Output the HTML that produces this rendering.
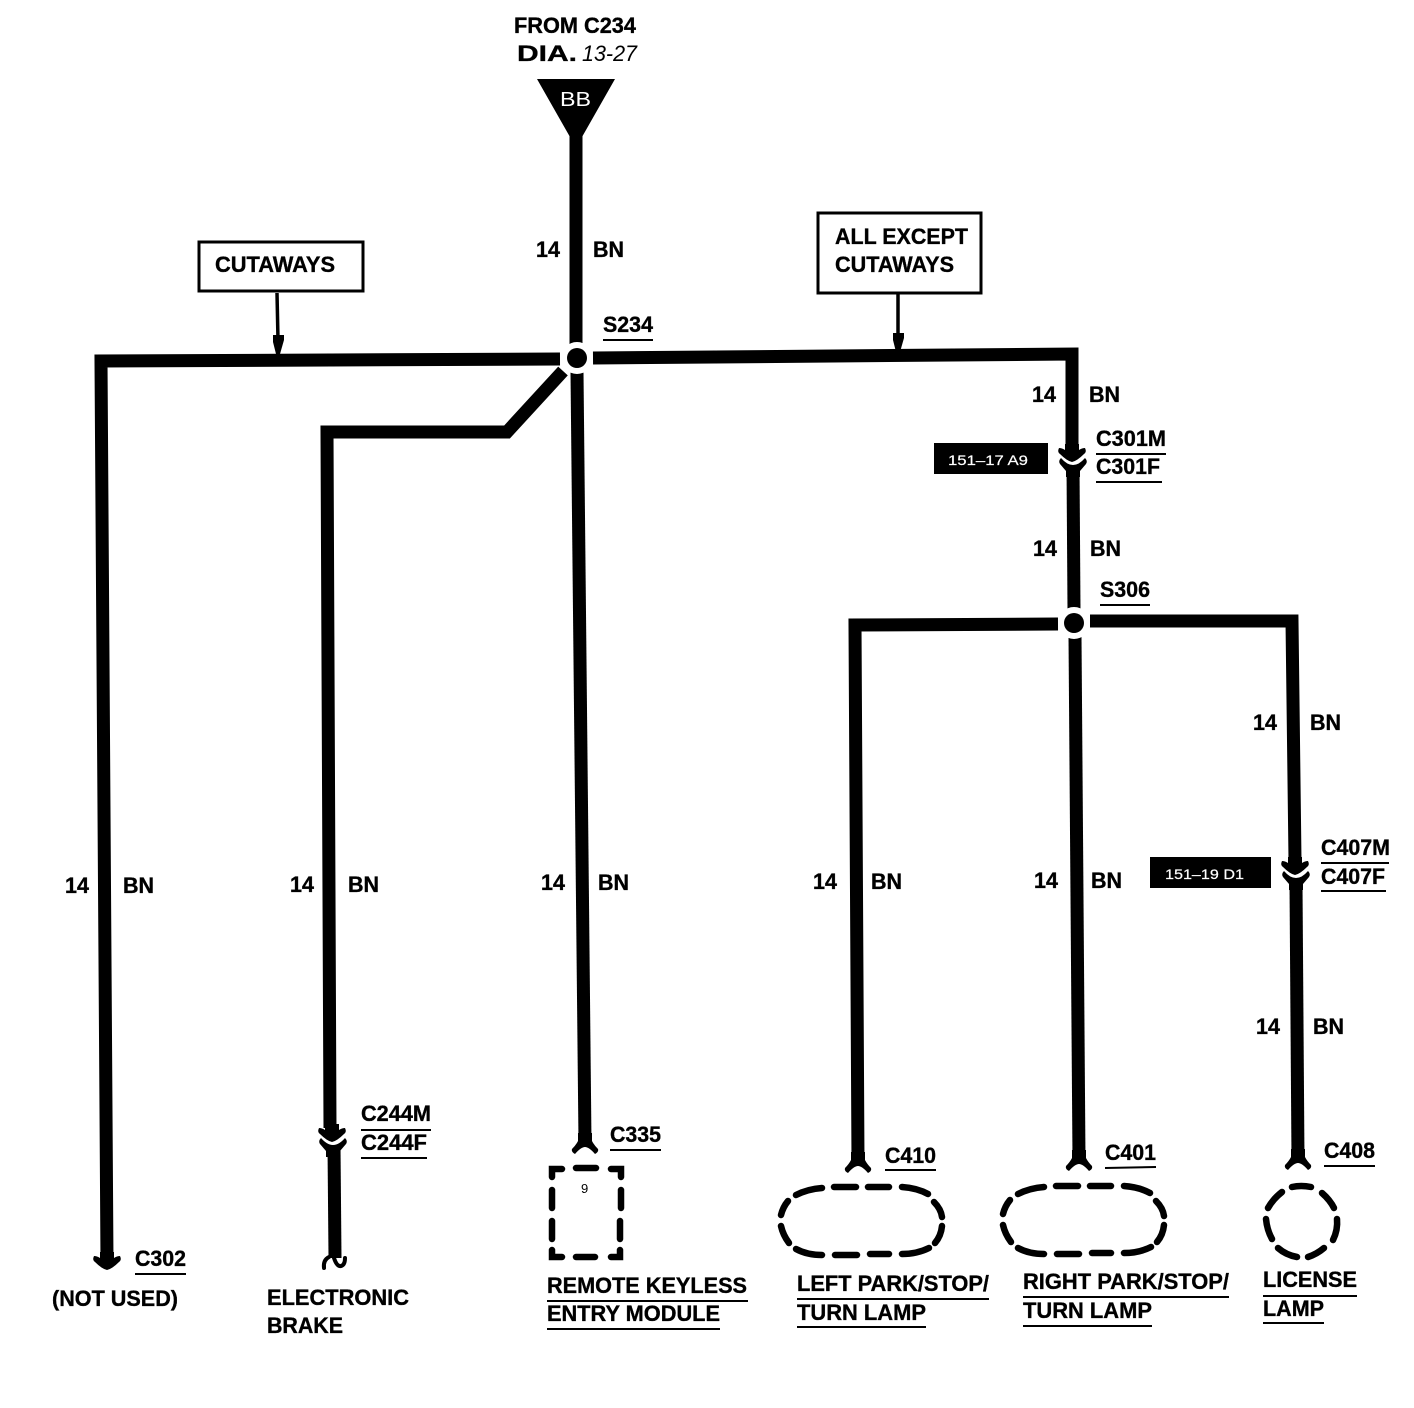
<!DOCTYPE html>
<html>
<head>
<meta charset="utf-8">
<style>
html,body{margin:0;padding:0;background:#fff;width:1414px;height:1408px;overflow:hidden}
svg{display:block}
text{font-family:"Liberation Sans",sans-serif;font-weight:bold;font-size:22px;fill:#000;stroke:#000;stroke-width:.35}
.w{fill:none;stroke:#000;stroke-width:13;stroke-linejoin:miter}
.u{stroke:#000;stroke-width:2}
.d{fill:none;stroke:#000;stroke-width:6.5;stroke-linecap:round}
.t{fill:#fff;stroke:#fff;stroke-width:.2;font-weight:normal;font-size:14px}
.n{font-weight:normal;stroke-width:0}
</style>
</head>
<body>
<svg width="1414" height="1408" viewBox="0 0 1414 1408" xmlns="http://www.w3.org/2000/svg">
<defs>
<path id="male" d="M-13,-8 Q-15,-4 -12,-2 Q-5,5 0,6 Q5,5 12,-2 Q15,-4 13,-8 Q10,-8 7,-6 L7,-12 L-7,-12 L-7,-6 Q-10,-8 -13,-8 Z"/>
<path id="female" d="M-12,-5 Q-15,-2 -13,1 L-7,8 L-7,14 L7,14 L7,8 L13,1 Q15,-2 12,-5 Q6,2 0,2 Q-6,2 -12,-5 Z"/>
<path id="fork" d="M-7,-14 L7,-14 L7,-6 Q9,-2 13,2 Q14,5 10,7 Q4,0 0,0 Q-4,0 -10,7 Q-14,5 -13,2 Q-9,-2 -7,-6 Z"/>
<g id="pill">
<path class="d" d="M796,1195 Q808,1189 822,1188"/>
<path class="d" d="M834,1187 L856,1187"/>
<path class="d" d="M868,1187 L889,1187"/>
<path class="d" d="M902,1187 Q917,1188 928,1194"/>
<path class="d" d="M934,1202 Q941,1209 942,1217"/>
<path class="d" d="M942,1226 Q941,1236 935,1243"/>
<path class="d" d="M929,1248 Q917,1254 902,1254"/>
<path class="d" d="M889,1254 L870,1254"/>
<path class="d" d="M857,1255 L835,1255"/>
<path class="d" d="M822,1255 Q807,1255 796,1249"/>
<path class="d" d="M789,1243 Q783,1235 781,1226"/>
<path class="d" d="M781,1215 Q783,1207 788,1201"/>
</g>
</defs>

<!-- header -->
<text x="514" y="33" textLength="122" lengthAdjust="spacingAndGlyphs">FROM C234</text>
<text x="517" y="61" textLength="60" lengthAdjust="spacingAndGlyphs">DIA.</text>
<text class="n" x="582" y="61" textLength="55" lengthAdjust="spacingAndGlyphs" style="font-style:italic">13-27</text>
<polygon points="537,79 615,79 582,137 582,145 570,145 570,137"/>
<text class="n" x="560" y="106" textLength="31" lengthAdjust="spacingAndGlyphs" style="fill:#fff;font-size:20px">BB</text>

<!-- wires -->
<path class="w" d="M576,135 L576,350"/>
<path class="w" d="M560,359 L101,361 L107,1262"/>
<path class="w" d="M593,358 L1072,354 L1072,445"/>
<path class="w" d="M577,372 L585,1142"/>
<path class="w" d="M563,371 L507,432 L327,432 L330,1128"/>
<path class="w" d="M334,1146 L335,1258"/>
<path class="w" d="M1073,465 L1074,610"/>
<path class="w" d="M1058,624 L855,625 L858,1162"/>
<path class="w" d="M1090,621 L1292,621 L1295,860"/>
<path class="w" d="M1075,636 L1079,1160"/>
<path class="w" d="M1296,884 L1298,1160"/>

<!-- splices -->
<circle cx="577" cy="358" r="16" fill="#fff"/>
<circle cx="577" cy="358" r="10"/>
<circle cx="1074" cy="623" r="16" fill="#fff"/>
<circle cx="1074" cy="623" r="10"/>

<!-- connectors -->
<use href="#male" x="1072" y="456"/>
<use href="#female" x="1073" y="463"/>
<use href="#male" x="1295" y="869"/>
<use href="#female" x="1296" y="876"/>
<use href="#male" x="332" y="1136"/>
<use href="#female" x="333" y="1143"/>
<use href="#male" x="107" y="1264"/>
<use href="#fork" x="585" y="1147"/>
<use href="#fork" x="858" y="1166"/>
<use href="#fork" x="1079" y="1164"/>
<use href="#fork" x="1298" y="1163"/>
<path d="M329,1257 Q323,1260 324,1268" fill="none" stroke="#000" stroke-width="4" stroke-linecap="round"/>
<path d="M334,1258 Q337,1267 341,1266 Q345,1265 345,1258" fill="none" stroke="#000" stroke-width="4" stroke-linecap="round"/>

<!-- boxes -->
<rect x="199" y="242" width="164" height="49" fill="none" stroke="#000" stroke-width="3"/>
<text x="215" y="272" textLength="120" lengthAdjust="spacingAndGlyphs">CUTAWAYS</text>
<path d="M277,293 L278,340" stroke="#000" stroke-width="3.5" fill="none"/>
<polygon points="273,335 284,335 284,340 280,354 276,354 273,342"/>
<rect x="818" y="213" width="163" height="80" fill="none" stroke="#000" stroke-width="3"/>
<text x="835" y="244" textLength="133" lengthAdjust="spacingAndGlyphs">ALL EXCEPT</text>
<text x="835" y="272" textLength="119" lengthAdjust="spacingAndGlyphs">CUTAWAYS</text>
<path d="M898,294 L898,338" stroke="#000" stroke-width="3.5" fill="none"/>
<polygon points="893,333 904,333 904,338 900,352 896,352 893,340"/>

<!-- black tags -->
<rect x="934" y="443" width="114" height="31"/>
<text class="t" x="948" y="465" textLength="80" lengthAdjust="spacingAndGlyphs">151–17 A9</text>
<rect x="1150" y="857" width="121" height="31"/>
<text class="t" x="1165" y="879" textLength="79" lengthAdjust="spacingAndGlyphs">151–19 D1</text>

<!-- wire labels -->
<text x="536" y="257" textLength="24" lengthAdjust="spacingAndGlyphs">14</text><text x="593" y="257" textLength="31" lengthAdjust="spacingAndGlyphs">BN</text>
<text x="1032" y="402" textLength="24" lengthAdjust="spacingAndGlyphs">14</text><text x="1089" y="402" textLength="31" lengthAdjust="spacingAndGlyphs">BN</text>
<text x="1033" y="556" textLength="24" lengthAdjust="spacingAndGlyphs">14</text><text x="1090" y="556" textLength="31" lengthAdjust="spacingAndGlyphs">BN</text>
<text x="1253" y="730" textLength="24" lengthAdjust="spacingAndGlyphs">14</text><text x="1310" y="730" textLength="31" lengthAdjust="spacingAndGlyphs">BN</text>
<text x="1256" y="1034" textLength="24" lengthAdjust="spacingAndGlyphs">14</text><text x="1313" y="1034" textLength="31" lengthAdjust="spacingAndGlyphs">BN</text>
<text x="65" y="893" textLength="24" lengthAdjust="spacingAndGlyphs">14</text><text x="123" y="893" textLength="31" lengthAdjust="spacingAndGlyphs">BN</text>
<text x="290" y="892" textLength="24" lengthAdjust="spacingAndGlyphs">14</text><text x="348" y="892" textLength="31" lengthAdjust="spacingAndGlyphs">BN</text>
<text x="541" y="890" textLength="24" lengthAdjust="spacingAndGlyphs">14</text><text x="598" y="890" textLength="31" lengthAdjust="spacingAndGlyphs">BN</text>
<text x="813" y="889" textLength="24" lengthAdjust="spacingAndGlyphs">14</text><text x="871" y="889" textLength="31" lengthAdjust="spacingAndGlyphs">BN</text>
<text x="1034" y="888" textLength="24" lengthAdjust="spacingAndGlyphs">14</text><text x="1091" y="888" textLength="31" lengthAdjust="spacingAndGlyphs">BN</text>

<!-- connector and splice labels -->
<text x="603" y="332" textLength="50" lengthAdjust="spacingAndGlyphs">S234</text><line class="u" x1="603" y1="340" x2="653" y2="340"/>
<text x="1100" y="597" textLength="50" lengthAdjust="spacingAndGlyphs">S306</text><line class="u" x1="1100" y1="605" x2="1150" y2="605"/>
<text x="1096" y="446" textLength="70" lengthAdjust="spacingAndGlyphs">C301M</text><line class="u" x1="1096" y1="454" x2="1166" y2="454"/>
<text x="1096" y="474" textLength="64" lengthAdjust="spacingAndGlyphs">C301F</text><line class="u" x1="1096" y1="482" x2="1162" y2="482"/>
<text x="1321" y="855" textLength="69" lengthAdjust="spacingAndGlyphs">C407M</text><line class="u" x1="1321" y1="863" x2="1389" y2="863"/>
<text x="1321" y="884" textLength="64" lengthAdjust="spacingAndGlyphs">C407F</text><line class="u" x1="1321" y1="891" x2="1386" y2="891"/>
<text x="361" y="1121" textLength="70" lengthAdjust="spacingAndGlyphs">C244M</text><line class="u" x1="361" y1="1130" x2="431" y2="1130"/>
<text x="361" y="1150" textLength="66" lengthAdjust="spacingAndGlyphs">C244F</text><line class="u" x1="361" y1="1158" x2="427" y2="1158"/>
<text x="610" y="1142" textLength="51" lengthAdjust="spacingAndGlyphs">C335</text><line class="u" x1="610" y1="1150" x2="661" y2="1150"/>
<text x="885" y="1163" textLength="51" lengthAdjust="spacingAndGlyphs">C410</text><line class="u" x1="885" y1="1170" x2="936" y2="1170"/>
<text x="1105" y="1160" textLength="51" lengthAdjust="spacingAndGlyphs">C401</text><line class="u" x1="1105" y1="1168" x2="1156" y2="1167"/>
<text x="1324" y="1158" textLength="51" lengthAdjust="spacingAndGlyphs">C408</text><line class="u" x1="1324" y1="1166" x2="1375" y2="1166"/>
<text x="135" y="1266" textLength="51" lengthAdjust="spacingAndGlyphs">C302</text><line class="u" x1="135" y1="1274" x2="186" y2="1274"/>

<!-- component labels -->
<text x="52" y="1306" textLength="126" lengthAdjust="spacingAndGlyphs">(NOT USED)</text>
<text x="267" y="1305" textLength="142" lengthAdjust="spacingAndGlyphs">ELECTRONIC</text>
<text x="267" y="1333" textLength="76" lengthAdjust="spacingAndGlyphs">BRAKE</text>
<text x="547" y="1293" textLength="200" lengthAdjust="spacingAndGlyphs">REMOTE KEYLESS</text><line class="u" x1="547" y1="1301" x2="748" y2="1301"/>
<text x="547" y="1321" textLength="173" lengthAdjust="spacingAndGlyphs">ENTRY MODULE</text><line class="u" x1="547" y1="1329" x2="720" y2="1329"/>
<text x="797" y="1291" textLength="192" lengthAdjust="spacingAndGlyphs">LEFT PARK/STOP/</text><line class="u" x1="797" y1="1299" x2="989" y2="1299"/>
<text x="797" y="1320" textLength="129" lengthAdjust="spacingAndGlyphs">TURN LAMP</text><line class="u" x1="797" y1="1327" x2="926" y2="1327"/>
<text x="1023" y="1289" textLength="206" lengthAdjust="spacingAndGlyphs">RIGHT PARK/STOP/</text><line class="u" x1="1023" y1="1297" x2="1229" y2="1297"/>
<text x="1023" y="1318" textLength="129" lengthAdjust="spacingAndGlyphs">TURN LAMP</text><line class="u" x1="1023" y1="1326" x2="1152" y2="1326"/>
<text x="1263" y="1287" textLength="94" lengthAdjust="spacingAndGlyphs">LICENSE</text><line class="u" x1="1263" y1="1296" x2="1357" y2="1296"/>
<text x="1263" y="1316" textLength="61" lengthAdjust="spacingAndGlyphs">LAMP</text><line class="u" x1="1263" y1="1323" x2="1324" y2="1323"/>

<!-- dashed components -->
<path class="d" d="M552,1177 L552,1169 L562,1169"/>
<path class="d" d="M576,1168 L596,1168"/>
<path class="d" d="M611,1169 L621,1169 L621,1177"/>
<path class="d" d="M552,1190 L552,1208"/>
<path class="d" d="M621,1190 L621,1208"/>
<path class="d" d="M552,1221 L552,1239"/>
<path class="d" d="M620,1221 L620,1239"/>
<path class="d" d="M552,1250 L552,1257 L562,1257"/>
<path class="d" d="M576,1257 L595,1257"/>
<path class="d" d="M611,1257 L620,1257 L620,1250"/>
<text class="n" x="581" y="1193" style="font-size:13px">9</text>

<use href="#pill"/>
<use href="#pill" x="222" y="-1"/>
<path class="d" d="M1292,1187 Q1301,1185 1311,1187"/>
<path class="d" d="M1322,1193 Q1330,1200 1334,1208"/>
<path class="d" d="M1337,1219 Q1338,1230 1333,1240"/>
<path class="d" d="M1324,1248 Q1317,1254 1308,1257"/>
<path class="d" d="M1297,1257 Q1286,1255 1278,1248"/>
<path class="d" d="M1272,1239 Q1267,1230 1266,1219"/>
<path class="d" d="M1268,1208 Q1273,1199 1282,1192"/>
</svg>
</body>
</html>
